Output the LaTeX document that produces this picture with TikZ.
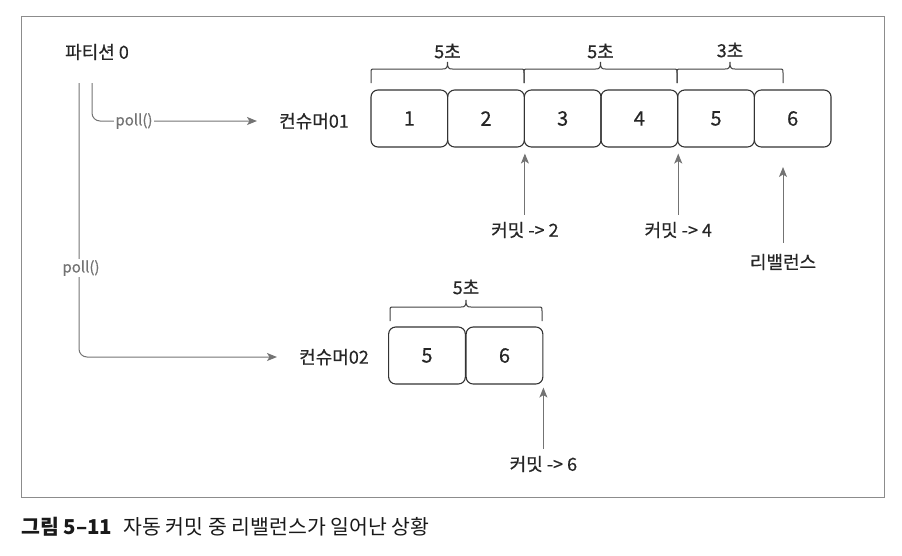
\documentclass[tikz,border=0pt]{standalone}
\usepackage{fontspec}
\setmainfont{Noto Sans CJK KR}
\newfontfamily\medfont{Noto Sans CJK KR}[FakeBold=0.5]
\usetikzlibrary{arrows.meta,calc}
\newcommand\kbrace[4]{%
 \draw[brc] (#1,#4) -- (#1,#3+4) .. controls (#1,#3) .. (#1+4,#3) -- ({(#1+#2)/2-5},#3) .. controls ({(#1+#2)/2-1},#3) and ({(#1+#2)/2},#3-1) .. ({(#1+#2)/2},#3-7) .. controls ({(#1+#2)/2},#3-1) and ({(#1+#2)/2+1},#3) .. ({(#1+#2)/2+5},#3) -- (#2-4,#3) .. controls (#2,#3) .. (#2,#3+4) -- (#2,#4);}
\begin{document}
\begin{tikzpicture}[x=1pt,y=-1pt,
  lbl/.style={font=\medfont\fontsize{18}{21}\selectfont, text=black!85, inner sep=1pt},
  numbox/.style={draw=black!80, line width=1.1pt, rounded corners=7pt, minimum width=76.7pt, minimum height=57pt, font=\medfont\fontsize{20}{23}\selectfont, text=black!85, inner sep=0pt},
  conn/.style={draw=black!55, line width=1pt},
  arr/.style={conn, -{Stealth[length=10pt,width=8pt,inset=2.5pt]}},
  brc/.style={draw=black!75, line width=1pt},
  polllbl/.style={font=\medfont\fontsize{15}{18}\selectfont, text=black!55, fill=white, inner sep=1pt}]
\useasboundingbox (0,0) rectangle (902,555);
\draw[black!45, line width=.8pt] (21,16) rectangle (884,497);

% top queue
\foreach \i in {1,...,6} \node[numbox] (b\i) at ({371+76.67*(\i-0.5)},118.5) {\i};
% bottom queue
\node[numbox] (d5) at (427,355.5) {5};
\node[numbox] (d6) at (504.5,355.5) {6};

% braces
\kbrace{371}{524}{69}{83}
\kbrace{524}{677}{69}{83}
\kbrace{677}{783}{69}{83}
\kbrace{390}{542}{307}{321}
\node[lbl] (t1) at (447.5,51) {5초};
\node[lbl] (t2) at (600.5,51) {5초};
\node[lbl] (t3) at (730,50) {3초};
\node[lbl] (t4) at (466,287) {5초};

% labels
\node[lbl] (p0) at (97,52) {파티션 0};
\node[lbl] (c1) at (314,121) {컨슈머01};
\node[lbl] (c2) at (334,357) {컨슈머02};
\node[lbl] (k2) at (b2.south east |- 0,230) {커밋 -> 2};
\node[lbl] (k4) at (b4.south east |- 0,230) {커밋 -> 4};
\node[lbl] (rb) at (783,262) {리밸런스};
\node[lbl] (k6) at (d6.south east |- 0,464) {커밋 -> 6};

% commit arrows
\draw[arr] ([yshift=6pt]k2.north) -- ([yshift=-6pt]b2.south east);
\draw[arr] ([yshift=6pt]k4.north) -- ([yshift=-6pt]b4.south east);
\coordinate (rbt) at (783,167);
\draw[arr, shorten <=10pt] (rb.north) -- (rbt);
\draw[arr] ([yshift=6pt]k6.north) -- ([yshift=-3pt]d6.south east);

% poll lines
\coordinate (s1) at (79,83);
\coordinate (s2) at (92,83);
\draw[arr, rounded corners=8pt, shorten >=21pt] (s2) |- (c1.west);
\node[polllbl] (pl1) at (134,121) {poll()};
\draw[arr, rounded corners=8pt, shorten >=21pt] (s1) |- (c2.west);
\node[polllbl] (pl2) at (81,268) {poll()};

% caption
\node[anchor=west, font=\fontsize{20.5}{24}\selectfont, text=black!90, inner sep=0pt] (cap) at (21,527) {\textbf{그림 5–11}\hspace{0.55em}자동 커밋 중 리밸런스가 일어난 상황};
\end{tikzpicture}
\end{document}
